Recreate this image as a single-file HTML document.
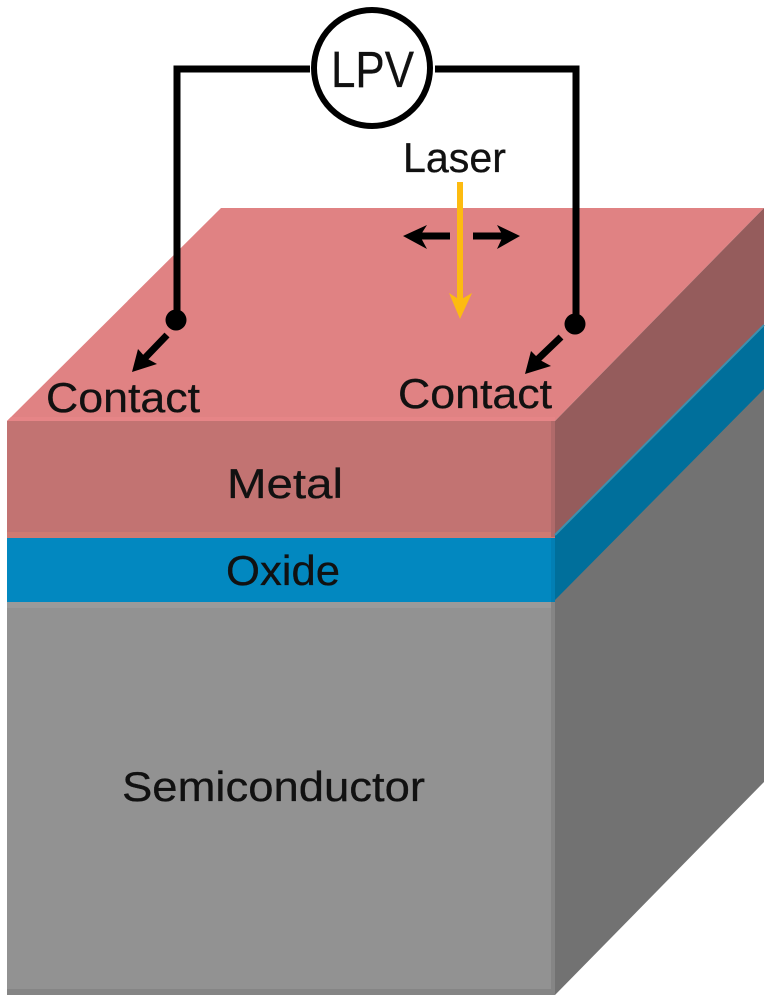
<!DOCTYPE html>
<html><head><meta charset="utf-8"><style>html,body{margin:0;padding:0;background:#fff}svg{display:block}text{font-family:"Liberation Sans",sans-serif;fill:#111;stroke:#111;stroke-width:.3}</style></head>
<body>
<svg xmlns="http://www.w3.org/2000/svg" width="773" height="1000" viewBox="0 0 773 1000">
<rect width="773" height="1000" fill="#fff"/>
<polygon points="7,421 221,208 764,208 555,421" fill="#e08283"/>
<polygon points="11,417 555,417 555,421 7,421" fill="#e68587"/>
<rect x="7" y="421" width="548" height="116" fill="#c27372"/>
<rect x="7" y="532" width="548" height="6" fill="#cf7a72"/>
<rect x="7" y="538" width="548" height="64" fill="#0288c0"/>
<rect x="7" y="602" width="548" height="392" fill="#929292"/>
<rect x="7" y="602" width="548" height="6" fill="#9a9a9a"/>
<rect x="7" y="989" width="548" height="6" fill="#858585"/>
<rect x="551" y="421" width="4" height="116" fill="#b06a6a"/>
<rect x="551" y="538" width="4" height="64" fill="#027fb4"/>
<rect x="551" y="602" width="4" height="392" fill="#858585"/>
<polygon points="555,421 764,208 764,326 555,536" fill="#955c5c"/>
<polygon points="555,590 764,380 764,782 555,995" fill="#727272"/>
<polygon points="555,535 764,325 764,389 555,600" fill="#006f9b"/>
<line x1="555" y1="535" x2="764" y2="325" stroke="#3d90ae" stroke-width="2"/>
<path d="M310,69H177V315" fill="none" stroke="#000" stroke-width="7"/>
<path d="M435,69H576V322" fill="none" stroke="#000" stroke-width="7"/>
<circle cx="372" cy="68" r="58" fill="#fff" stroke="#000" stroke-width="6"/>
<circle cx="176" cy="320" r="10.5" fill="#000"/>
<circle cx="575" cy="324" r="10.5" fill="#000"/>
<line x1="167" y1="335" x2="142" y2="361" stroke="#000" stroke-width="7"/>
<polygon points="132,372 138,349 146,358 157,364" fill="#000"/>
<line x1="561" y1="337" x2="538" y2="359" stroke="#000" stroke-width="7"/>
<polygon points="525,374 531,351 540,360 551,366" fill="#000"/>
<line x1="460" y1="182" x2="460" y2="300" stroke="#fdbb10" stroke-width="6"/>
<polygon points="449,293 460,300 472,293 460,319" fill="#fdbb10"/>
<line x1="450" y1="236" x2="415" y2="236" stroke="#000" stroke-width="7"/>
<polygon points="403,236 427,225 420,236 427,249" fill="#000"/>
<line x1="473" y1="236" x2="508" y2="236" stroke="#000" stroke-width="7"/>
<polygon points="520,236 497,225 503,236 497,249" fill="#000"/>
<text x="331" y="87" font-size="51" textLength="83" lengthAdjust="spacingAndGlyphs">LPV</text>
<text x="403" y="172" font-size="42" textLength="103" lengthAdjust="spacingAndGlyphs">Laser</text>
<text x="46" y="412" font-size="42" textLength="154" lengthAdjust="spacingAndGlyphs">Contact</text>
<text x="398" y="408" font-size="42" textLength="154" lengthAdjust="spacingAndGlyphs">Contact</text>
<text x="227" y="498" font-size="42" textLength="116" lengthAdjust="spacingAndGlyphs">Metal</text>
<text x="226" y="585" font-size="42" textLength="114" lengthAdjust="spacingAndGlyphs">Oxide</text>
<text x="122" y="801" font-size="42" textLength="303" lengthAdjust="spacingAndGlyphs">Semiconductor</text>
</svg>
</body></html>
